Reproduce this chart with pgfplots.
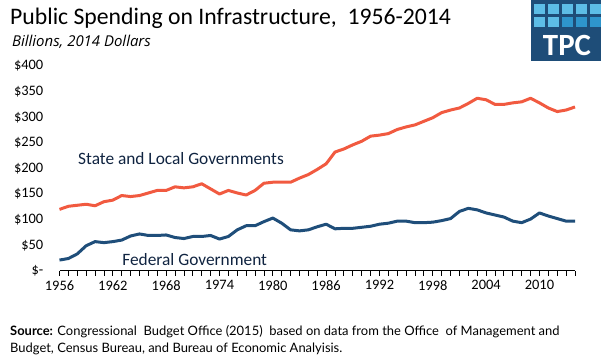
\documentclass[border=0pt]{standalone}
\usepackage{pgfplots}
\pgfplotsset{compat=1.18}
\usepackage{fontspec}
\setmainfont{Carlito}
\newfontfamily\lato{Lato}
\newfontfamily\opensans{Open Sans}
\definecolor{redline}{HTML}{F15A40}
\definecolor{blueline}{HTML}{1F4E7A}
\definecolor{logobg}{HTML}{1E4D78}
\definecolor{sqA}{HTML}{5DBDE6}
\definecolor{sqB}{HTML}{2E95CC}
\definecolor{labtext}{HTML}{0F2340}
\definecolor{gridc}{HTML}{CFCFCF}
\begin{document}
\begin{tikzpicture}
\begin{scope}[x=1bp,y=1bp]
\useasboundingbox (0,0) rectangle (601,361);
% title
\node[anchor=base west, inner sep=0] at (10,337) {\fontsize{23.8}{25}\selectfont Public Spending on Infrastructure,\ \ 1956-2014};
\node[anchor=base west, inner sep=0] at (12,314.5) {\opensans\fontsize{15}{17}\selectfont\itshape Billions, 2014 Dollars};
% logo
\fill[logobg] (531,300) rectangle (601,361);
\foreach \i/\c in {0/sqA,1/sqA,2/sqA,3/sqA,4/sqA}{
  \fill[\c] (534+\i*14,347) rectangle (545+\i*14,357);}
\foreach \i/\c in {0/sqA,1/sqA,2/sqB,3/sqB,4/sqB}{
  \fill[\c] (534+\i*14,334) rectangle (545+\i*14,344);}
\node[anchor=base, inner sep=0, text=white] at (567,306) {\fontsize{31}{32}\selectfont\bfseries TPC};
% source
\node[anchor=base west, inner sep=0] at (10,26) {\lato\fontsize{13}{15}\selectfont\textbf{Source:} Congressional\ \ Budget Office (2015)\ \ based on data from the Office\ \ of Management and};
\node[anchor=base west, inner sep=0] at (10,9) {\lato\fontsize{13}{15}\selectfont Budget, Census Bureau, and Bureau of Economic Analyisis.};
% y tick labels
\foreach \v/\l in {0/{\$-},50/{\$50},100/{\$100},150/{\$150},200/{\$200},250/{\$250},300/{\$300},350/{\$350},400/{\$400}}{
  \node[anchor=east, inner sep=0, font=\fontsize{14.5}{16}\selectfont] at (43.5,90.2+\v*0.512) {\l};}
% series labels
\node[anchor=center, inner sep=0, text=labtext, font=\fontsize{17.4}{19}\selectfont] at (181,202) {State and Local Governments};
\node[anchor=center, inner sep=0, text=labtext, font=\fontsize{17.4}{19}\selectfont] at (194.7,101) {Federal Government};
\end{scope}
\begin{axis}[
  at={(59.5bp,90.2bp)}, anchor=south west, scale only axis,
  width=515.5bp, height=204.8bp,
  xmin=1956, xmax=2014, ymin=0, ymax=400,
  axis y line=none,
  axis x line*=bottom,
  x axis line style={black, line width=0.9bp, -},
  xtick={1956,1962,...,2010},
  minor xtick={1956,...,2014},
  tick align=outside,
  major tick length=5bp, minor tick length=5bp,
  every tick/.style={black, line width=0.8bp},
  xticklabel style={font=\fontsize{14.5}{16}\selectfont, yshift=-1bp},
  x tick label style={/pgf/number format/set thousands separator={}},
  /pgf/number format/assume math mode=true,
  ytick={50,100,...,400},
  ymajorgrids=true,
  grid style={gridc, line width=0.8bp, dash pattern=on 1.2bp off 1.2bp},
  clip=false,
]
\addplot[redline, line width=3bp, line join=round] coordinates {
(1956,120)(1957,126)(1958,128)(1959,130)(1960,127)(1961,135)(1962,138)(1963,147)(1964,145)(1965,147)
(1966,152)(1967,157)(1968,157)(1969,164)(1970,162)(1971,164)(1972,170)(1973,160)(1974,150)(1975,157)
(1976,152)(1977,148)(1978,157)(1979,171)(1980,173)(1981,173)(1982,173)(1983,181)(1984,188)(1985,198)
(1986,209)(1987,232)(1988,238)(1989,246)(1990,253)(1991,263)(1992,265)(1993,268)(1994,276)(1995,281)
(1996,285)(1997,292)(1998,299)(1999,309)(2000,314)(2001,318)(2002,327)(2003,337)(2004,334)(2005,325)
(2006,325)(2007,328)(2008,330)(2009,337)(2010,328)(2011,318)(2012,311)(2013,314)(2014,320)};
\addplot[blueline, line width=3bp, line join=round] coordinates {
(1956,21)(1957,24)(1958,33)(1959,49)(1960,57)(1961,55)(1962,57)(1963,60)(1964,68)(1965,72)
(1966,69)(1967,69)(1968,70)(1969,65)(1970,63)(1971,67)(1972,67)(1973,69)(1974,62)(1975,67)
(1976,80)(1977,88)(1978,88)(1979,96)(1980,103)(1981,93)(1982,80)(1983,78)(1984,80)(1985,86)
(1986,91)(1987,82)(1988,83)(1989,83)(1990,85)(1991,87)(1992,91)(1993,93)(1994,97)(1995,97)
(1996,94)(1997,94)(1998,95)(1999,98)(2000,102)(2001,116)(2002,122)(2003,119)(2004,113)(2005,109)
(2006,105)(2007,97)(2008,94)(2009,101)(2010,113)(2011,107)(2012,102)(2013,97)(2014,97)};
\end{axis}
\end{tikzpicture}
\end{document}
